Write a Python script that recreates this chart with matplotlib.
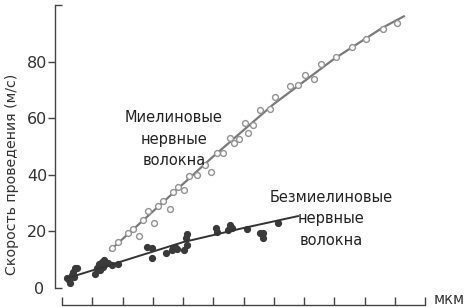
import matplotlib
matplotlib.use('Agg')
import matplotlib.pyplot as plt
from matplotlib.ticker import FixedLocator, FixedFormatter

# Myelinated fibres (open circles)
myel_x = [1.64, 1.86, 2.17, 2.34, 2.55, 2.69, 2.85, 3.05, 3.18, 3.35, 3.57, 3.68, 3.84, 4.03,
          4.21, 4.45, 4.73, 4.93, 5.11, 5.31, 5.55, 5.69, 5.86, 6.05, 6.16, 6.32, 6.55, 6.88,
          7.04, 7.54, 7.80, 8.03, 8.33, 8.55, 9.07, 9.58, 10.05, 10.60, 11.08]
myel_y = [14.0, 16.4, 19.3, 20.7, 18.4, 24.0, 27.3, 22.9, 29.0, 30.7, 27.8, 34.0, 35.8, 34.6,
          39.6, 39.9, 43.5, 41.1, 47.6, 47.6, 52.9, 51.1, 52.5, 58.4, 54.9, 57.6, 62.9, 63.1,
          67.4, 71.4, 71.7, 75.4, 73.7, 79.2, 81.5, 85.3, 88.0, 91.5, 93.7]
myel_fit_x = [1.6, 3, 5, 7, 9, 10.6, 11.3]
myel_fit_y = [13.4, 27, 46.5, 65, 81, 92, 96]

# Unmyelinated fibres (filled circles)
unmy_x = [0.16, 0.24, 0.26, 0.32, 0.35, 0.40, 0.43, 0.49,
          1.09, 1.17, 1.23, 1.26, 1.31, 1.35, 1.39, 1.42, 1.53, 1.64, 1.86,
          2.82, 2.97, 2.99, 3.44, 3.63, 3.68, 3.74, 3.81, 4.03, 4.10, 4.12, 4.12,
          5.09, 5.11, 5.50, 5.55, 5.61, 6.11, 6.55, 6.63, 6.65, 7.15]
unmy_y = [3.4, 2.8, 1.7, 4.6, 5.8, 4.0, 7.0, 7.2,
          4.8, 7.2, 8.4, 6.4, 9.1, 7.5, 9.9, 8.4, 8.7, 8.1, 8.4,
          14.6, 10.5, 14.2, 12.5, 13.4, 14.0, 14.6, 13.8, 13.4, 17.6, 19.0, 15.2,
          21.3, 19.9, 20.5, 22.3, 21.1, 20.7, 19.3, 17.6, 19.3, 22.9]
unmy_fit_x = [0.15, 2, 4, 6, 7.8]
unmy_fit_y = [3.4, 9.5, 16.2, 21.2, 25.4]

y_ticks = [20, 40, 60, 80]

fig = plt.figure(figsize=(4.68, 3.07), dpi=100)
ax = fig.add_axes([62 / 468, 19 / 307, 363 / 468, 283 / 307])

ax.plot(myel_fit_x, myel_fit_y, color='#7a7a7a', lw=1.6, zorder=2)
ax.plot(myel_x, myel_y, 'o', ms=4.2, mfc='white', mec='#939393', mew=1.0, zorder=3)
ax.plot(unmy_x, unmy_y, 'o', ms=4.2, color='#3a3a3a', zorder=3)
ax.plot(unmy_fit_x, unmy_fit_y, color='#333333', lw=1.4, zorder=4)

ax.set_xlim(0, 12)
ax.set_ylim(0, 100)

for s in ['top', 'right']:
    ax.spines[s].set_visible(False)
ax.spines['left'].set_position(('outward', 5))
ax.spines['bottom'].set_position(('outward', 12))
for s in ['left', 'bottom']:
    ax.spines[s].set_color('#444444')
    ax.spines[s].set_linewidth(1.0)

# y axis: labelled ticks point out, end caps at 0 and 100 point in
ax.yaxis.set_major_locator(FixedLocator(y_ticks))
ax.yaxis.set_minor_locator(FixedLocator([0, 100]))
ax.yaxis.set_minor_formatter(FixedFormatter(['0', '']))
ax.tick_params(axis='y', which='major', direction='out', length=5, width=1,
               color='#444444', labelsize=11.5, labelcolor='#333333', pad=0.5)
ax.tick_params(axis='y', which='minor', direction='in', length=5, width=1,
               color='#444444', labelsize=11.5, labelcolor='#333333', pad=8)

ax.set_xticks(range(0, 13))
ax.tick_params(axis='x', direction='in', length=6, width=1, color='#444444',
               labelbottom=False)

ax.set_ylabel('Скорость проведения (м/с)', fontsize=10.2, color='#333333')
ax.yaxis.set_label_coords(-0.118, 0.40)

ax.text(3.7, 52.6, 'Миелиновые\nнервные\nволокна', fontsize=10.5, color='#222222',
        ha='center', va='center', linespacing=1.55)
ax.text(8.9, 24.4, 'Безмиелиновые\nнервные\nволокна', fontsize=10.5, color='#222222',
        ha='center', va='center', linespacing=1.55)

fig.text(434 / 468, 7 / 307, 'мкм', fontsize=10.5, color='#333333', ha='left', va='center')

fig.savefig('out.png', dpi=100)
